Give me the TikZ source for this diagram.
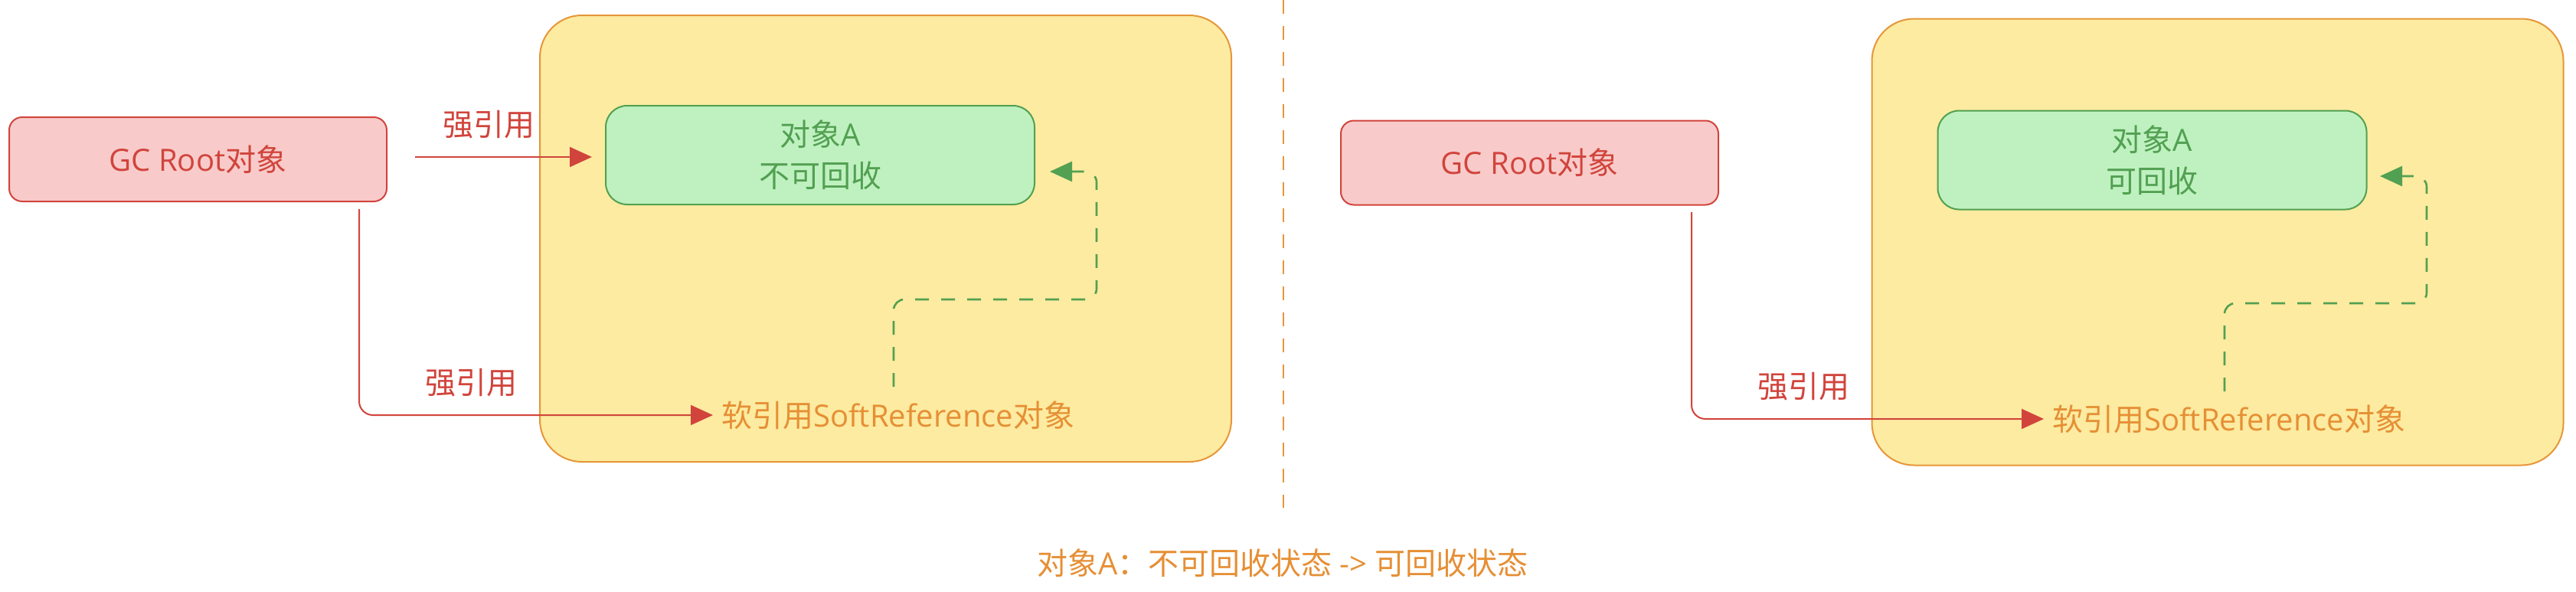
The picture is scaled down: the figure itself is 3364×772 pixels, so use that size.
\documentclass[tikz,border=0pt]{standalone}
\usepackage{fontspec}
\setmainfont{Open Sans}
\newfontfamily\cjk{Noto Sans CJK SC}
\usetikzlibrary{arrows.meta}
\definecolor{redS}{HTML}{D1443C}
\definecolor{redF}{HTML}{F8CBCA}
\definecolor{grnS}{HTML}{52A052}
\definecolor{grnF}{HTML}{BFF1C0}
\definecolor{ylwF}{HTML}{FCEBA0}
\definecolor{orgS}{HTML}{E6963A}
\definecolor{orgT}{HTML}{E68F35}
\begin{document}
\begin{tikzpicture}[x=1pt,y=-1pt,
  txt/.style={font=\fontsize{40pt}{54pt}\selectfont, inner sep=0pt, align=center},
  rootbox/.style={txt, draw=redS, fill=redF, line width=2pt, rounded corners=17pt, minimum width=493pt, minimum height=110pt, text=redS},
  objbox/.style={txt, draw=grnS, fill=grnF, line width=2pt, rounded corners=28pt, minimum width=560pt, minimum height=129pt, text=grnS},
  heapbox/.style={draw=orgS, fill=ylwF, line width=2pt, rounded corners=55pt, inner sep=0pt, minimum width=903pt, minimum height=583pt},
  reflbl/.style={txt, text=redS},
  softlbl/.style={txt, text=orgT, inner xsep=11pt, anchor=west},
  strongarr/.style={draw=redS, line width=2pt, -{Triangle[length=29pt,width=26pt]}, rounded corners=18pt},
  softarr/.style={draw=grnS, line width=2.6pt, dash pattern=on 18pt off 16pt, -{Triangle[length=29pt,width=26pt]}, rounded corners=14pt},
  divider/.style={draw=orgS, line width=2.7pt, dash pattern=on 18pt off 16pt},
]
\useasboundingbox (0,0) rectangle (3364,772);

% ---------- left ----------
\node[heapbox] (heap1) at (1156.5,311.5) {};
\node[rootbox] (root1) at (258.5,208) {GC Root{\cjk 对象}};
\node[objbox] (obj1) at (1071,202.5) {{\cjk 对象}A\\{\cjk 不可回收}};
\node[softlbl] (soft1) at (931,542) {{\cjk 软引用}SoftReference{\cjk 对象}};
\coordinate (s1) at (542,205);
\coordinate (t1) at (773,205);
\draw[strongarr] (s1) -- (t1);
\node[reflbl] (lbl1a) at (638,163) {{\cjk 强引用}};
\coordinate (r1) at (469,273);
\draw[strongarr] (r1) |- (soft1.west);
\node[reflbl] (lbl1b) at (615,500) {{\cjk 强引用}};
\coordinate (g1s) at (1167,505);
\coordinate (g1e) at (1371,224);
\draw[softarr] (g1s) -- (1167,391) -- (1432,391) -- (1432,224) -- (g1e);

% ---------- divider ----------
\coordinate (divtop) at (1676,0);
\coordinate (divbot) at (1676,663);
\draw[divider] (divtop) -- (divbot);

% ---------- right ----------
\node[heapbox] (heap2) at (2896,316) {};
\node[rootbox] (root2) at (1997.5,212.5) {GC Root{\cjk 对象}};
\node[objbox] (obj2) at (2810.5,209) {{\cjk 对象}A\\{\cjk 可回收}};
\node[softlbl] (soft2) at (2669,547) {{\cjk 软引用}SoftReference{\cjk 对象}};
\coordinate (r2) at (2209,277);
\draw[strongarr] (r2) |- (soft2.west);
\node[reflbl] (lbl2b) at (2355,505) {{\cjk 强引用}};
\coordinate (g2s) at (2905,511);
\coordinate (g2e) at (3108,230);
\draw[softarr] (g2s) -- (2905,396) -- (3169,396) -- (3169,230) -- (g2e);

% ---------- caption ----------
\node[txt, text=orgT] (caption) at (1675,735) {{\cjk 对象}A{\cjk ：不可回收状态} -> {\cjk 可回收状态}};
\end{tikzpicture}
\end{document}
